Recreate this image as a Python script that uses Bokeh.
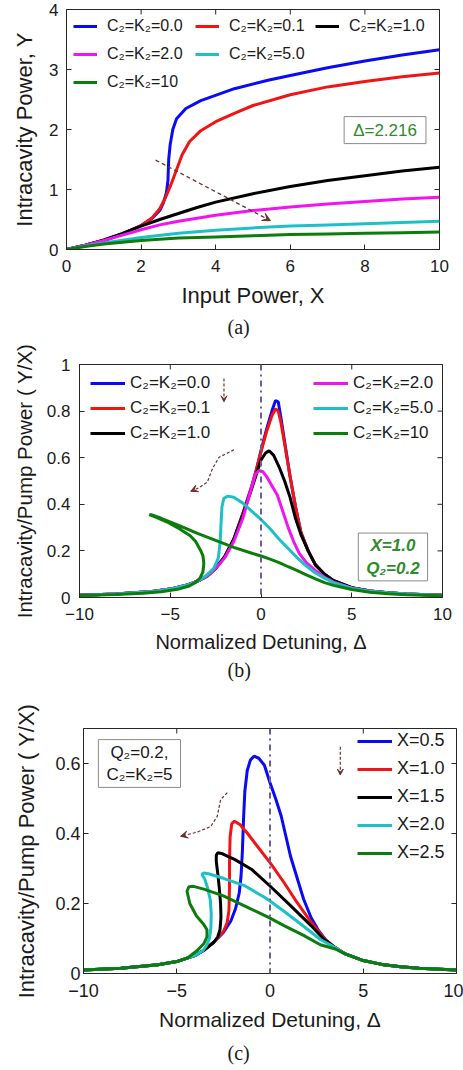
import math
from bokeh.plotting import figure
from bokeh.models import (Range1d, FixedTicker, Legend, LegendItem,
                          Label, Span, Arrow, VeeHead, Title)
from bokeh.layouts import column
from bokeh.embed import file_html
from bokeh.resources import INLINE

FONT = "Liberation Sans"
SERIF = "Liberation Serif"
AXC = "#262626"
TXT = "#1a1a1a"
ARR = "#6b3030"
VLINE = "#6e5a9e"
BOXGREEN = "#2e8b2e"

COLORS6 = ["#0a0af5", "#f01414", "#000000", "#f014f0", "#1ec0c8", "#0c7d0c"]
LABELS_CK = ["C₂=K₂=0.0", "C₂=K₂=0.1", "C₂=K₂=1.0", "C₂=K₂=2.0", "C₂=K₂=5.0", "C₂=K₂=10"]
COLORS5 = ["#0a0af5", "#f01414", "#000000", "#1ec0c8", "#0c7d0c"]
LABELS_X = ["X=0.5", "X=1.0", "X=1.5", "X=2.0", "X=2.5"]

# ---------------- panel (a): Y vs X, Delta = 2.216 ----------------
a_ticks_x = [0, 2, 4, 6, 8, 10]
a_ticks_y = [0, 1, 2, 3, 4]
a_blue_x = [0, 0.5, 1, 1.5, 2, 2.3, 2.5, 2.6, 2.68, 2.72, 2.74, 2.78, 2.85, 2.95, 3.2, 3.6, 4.5, 5.4, 6, 7, 8, 9, 10]
a_blue_y = [0, 0.07, 0.15, 0.26, 0.4, 0.52, 0.65, 0.78, 0.95, 1.15, 1.5, 1.75, 2.0, 2.18, 2.35, 2.48, 2.68, 2.82, 2.9, 3.03, 3.14, 3.24, 3.33]
a_red_x = [0, 0.5, 1, 1.5, 2, 2.3, 2.5, 2.65, 2.8, 2.95, 3.1, 3.3, 3.6, 4.0, 4.5, 5, 6, 7, 8, 9, 10]
a_red_y = [0, 0.07, 0.15, 0.26, 0.4, 0.53, 0.68, 0.86, 1.08, 1.33, 1.58, 1.8, 1.98, 2.13, 2.27, 2.4, 2.58, 2.71, 2.8, 2.88, 2.94]
a_black_x = [0, 0.5, 1, 1.5, 2, 2.5, 3, 3.5, 4, 5, 6, 7, 8, 9, 10]
a_black_y = [0, 0.07, 0.16, 0.27, 0.39, 0.5, 0.6, 0.7, 0.79, 0.93, 1.05, 1.15, 1.23, 1.31, 1.37]
a_mag_x = [0, 0.5, 1, 1.5, 2, 2.5, 3, 4, 5, 6, 7, 8, 9, 10]
a_mag_y = [0, 0.07, 0.15, 0.24, 0.33, 0.41, 0.47, 0.57, 0.65, 0.71, 0.76, 0.8, 0.84, 0.87]
a_cyan_x = [0, 0.5, 1, 2, 3, 4, 5, 6, 7, 8, 9, 10]
a_cyan_y = [0, 0.06, 0.11, 0.2, 0.27, 0.32, 0.36, 0.39, 0.41, 0.43, 0.45, 0.47]
a_green_x = [0, 0.5, 1, 2, 3, 4, 5, 6, 7, 8, 9, 10]
a_green_y = [0, 0.05, 0.09, 0.15, 0.19, 0.21, 0.23, 0.25, 0.26, 0.27, 0.28, 0.29]
a_arrow = [2.39, 1.49, 5.47, 0.48]
a_box = [8.54, 1.99]

# ---------------- panel (b): Y/X vs Delta, X = 1.0 ----------------
b_ticks_x = [-10, -5, 0, 5, 10]
b_ticks_y = [0, 0.2, 0.4, 0.6, 0.8, 1]
b_blue_x = [-10, -8, -6, -5, -4, -3.5, -3, -2.5, -2, -1.5, -1, -0.5, -0.25, 0, 0.3, 0.6, 0.8, 0.95, 1.1, 1.3, 1.6, 1.9, 2.2, 2.6, 3, 3.5, 4, 5, 6, 7, 8, 10]
b_blue_y = [0.01, 0.015, 0.026, 0.036, 0.055, 0.07, 0.09, 0.125, 0.175, 0.25, 0.36, 0.48, 0.55, 0.63, 0.72, 0.8, 0.845, 0.84, 0.77, 0.67, 0.52, 0.39, 0.28, 0.2, 0.14, 0.1, 0.072, 0.042, 0.028, 0.02, 0.015, 0.01]
b_red_x = [-10, -8, -6, -5, -4, -3.5, -3, -2.5, -2, -1.5, -1, -0.5, -0.25, 0, 0.3, 0.6, 0.8, 0.95, 1.1, 1.3, 1.6, 1.9, 2.2, 2.6, 3, 3.5, 4, 5, 6, 7, 8, 10]
b_red_y = [0.01, 0.015, 0.026, 0.036, 0.055, 0.07, 0.09, 0.125, 0.175, 0.25, 0.36, 0.48, 0.55, 0.625, 0.71, 0.78, 0.81, 0.8, 0.75, 0.66, 0.52, 0.39, 0.28, 0.2, 0.14, 0.1, 0.072, 0.042, 0.028, 0.02, 0.015, 0.01]
b_black_x = [-10, -8, -6, -5, -4, -3.5, -3, -2.5, -2, -1.5, -1, -0.5, -0.25, 0, 0.25, 0.45, 0.7, 1.0, 1.3, 1.6, 1.9, 2.2, 2.6, 3, 3.5, 4, 5, 6, 7, 8, 10]
b_black_y = [0.01, 0.015, 0.026, 0.036, 0.055, 0.07, 0.09, 0.125, 0.175, 0.25, 0.355, 0.47, 0.53, 0.59, 0.62, 0.63, 0.61, 0.56, 0.5, 0.43, 0.34, 0.27, 0.2, 0.14, 0.1, 0.072, 0.042, 0.028, 0.02, 0.015, 0.01]
b_mag_x = [-10, -8, -6, -5, -4, -3.5, -3, -2.5, -2, -1.5, -1, -0.6, -0.3, -0.1, 0.1, 0.3, 0.6, 0.9, 1.2, 1.5, 1.8, 2.1, 2.5, 3, 3.5, 4, 5, 6, 7, 8, 10]
b_mag_y = [0.01, 0.015, 0.026, 0.036, 0.055, 0.07, 0.09, 0.125, 0.17, 0.24, 0.34, 0.45, 0.53, 0.545, 0.54, 0.52, 0.48, 0.44, 0.37, 0.3, 0.24, 0.19, 0.15, 0.115, 0.087, 0.066, 0.04, 0.027, 0.02, 0.015, 0.01]
b_cyan_x = [-10, -8, -6, -5, -4, -3.5, -3, -2.6, -2.35, -2.25, -2.2, -2.15, -2.05, -1.85, -1.5, -1, -0.5, 0, 0.5, 1, 1.5, 2, 2.5, 3, 3.5, 4, 5, 6, 7, 8, 10]
b_cyan_y = [0.01, 0.015, 0.026, 0.036, 0.055, 0.07, 0.095, 0.125, 0.17, 0.24, 0.32, 0.39, 0.425, 0.435, 0.43, 0.405, 0.37, 0.335, 0.295, 0.25, 0.21, 0.17, 0.135, 0.105, 0.083, 0.064, 0.04, 0.027, 0.02, 0.015, 0.01]
b_green_x = [-10, -8, -6.5, -5.5, -4.6, -4.0, -3.6, -3.35, -3.2, -3.15, -3.2, -3.35, -3.6, -3.9, -4.5, -5.2, -5.8, -6.15, -6.0, -5.5, -4.5, -3.5, -2.5, -1.5, -0.5, 0, 0.5, 1, 1.5, 2, 2.5, 3, 3.5, 4, 5, 6, 7, 8, 10]
b_green_y = [0.009, 0.013, 0.018, 0.025, 0.035, 0.048, 0.065, 0.085, 0.11, 0.145, 0.18, 0.205, 0.24, 0.265, 0.295, 0.325, 0.345, 0.356, 0.354, 0.34, 0.308, 0.275, 0.245, 0.215, 0.19, 0.178, 0.165, 0.15, 0.132, 0.115, 0.097, 0.08, 0.064, 0.052, 0.034, 0.023, 0.016, 0.012, 0.008]
b_arrow_v = [-2.04, 0.94, -2.04, 0.84]
b_arrow_cx = [-1.49, -2.31, -2.68, -2.96, -3.42, -3.87]
b_arrow_cy = [0.634, 0.602, 0.552, 0.495, 0.471, 0.456]
b_box = [7.27, 0.174]

# ---------------- panel (c): Y/X vs Delta, C2=K2=5 ----------------
c_ticks_x = [-10, -5, 0, 5, 10]
c_ticks_y = [0, 0.2, 0.4, 0.6]
c_blue_x = [-10, -8, -6, -5, -4, -3.5, -3, -2.5, -2.1, -1.85, -1.65, -1.55, -1.48, -1.42, -1.35, -1.22, -1.05, -0.86, -0.6, -0.3, 0, 0.3, 0.6, 1.1, 1.5, 1.8, 2.2, 2.6, 3, 3.5, 4, 5, 6, 7, 8, 10]
c_blue_y = [0.01, 0.015, 0.025, 0.034, 0.052, 0.068, 0.09, 0.117, 0.15, 0.185, 0.23, 0.28, 0.35, 0.44, 0.52, 0.58, 0.61, 0.621, 0.615, 0.595, 0.545, 0.5, 0.45, 0.335, 0.265, 0.213, 0.16, 0.123, 0.095, 0.072, 0.057, 0.037, 0.026, 0.019, 0.015, 0.01]
c_red_x = [-10, -8, -6, -5, -4, -3.5, -3, -2.5, -2.3, -2.2, -2.17, -2.17, -2.14, -2.05, -1.9, -1.6, -1.2, -0.7, 0, 0.75, 1.45, 2.2, 2.9, 3.5, 4, 5, 6, 7, 8, 10]
c_red_y = [0.01, 0.015, 0.025, 0.034, 0.052, 0.068, 0.09, 0.12, 0.145, 0.18, 0.25, 0.32, 0.39, 0.428, 0.435, 0.425, 0.4, 0.365, 0.317, 0.26, 0.203, 0.147, 0.1, 0.074, 0.057, 0.037, 0.026, 0.019, 0.015, 0.01]
c_black_x = [-10, -8, -6, -5, -4, -3.5, -3, -2.8, -2.68, -2.63, -2.65, -2.72, -2.8, -2.88, -2.88, -2.8, -2.6, -2.2, -1.9, -1.0, 0, 1.1, 2.2, 2.9, 3.5, 4, 5, 6, 7, 8, 10]
c_black_y = [0.01, 0.015, 0.025, 0.034, 0.052, 0.068, 0.09, 0.105, 0.125, 0.16, 0.2, 0.245, 0.285, 0.32, 0.338, 0.345, 0.343, 0.333, 0.326, 0.298, 0.25, 0.194, 0.137, 0.097, 0.074, 0.057, 0.037, 0.026, 0.019, 0.015, 0.01]
c_cyan_x = [-10, -8, -6, -5, -4, -3.6, -3.4, -3.25, -3.17, -3.15, -3.2, -3.35, -3.5, -3.65, -3.55, -3.3, -2.5, -1.4, -0.3, 0, 0.75, 1.8, 2.7, 3.5, 4, 5, 6, 7, 8, 10]
c_cyan_y = [0.01, 0.015, 0.025, 0.034, 0.052, 0.065, 0.08, 0.1, 0.13, 0.17, 0.21, 0.245, 0.27, 0.283, 0.287, 0.285, 0.272, 0.252, 0.218, 0.207, 0.178, 0.135, 0.097, 0.074, 0.057, 0.037, 0.026, 0.019, 0.015, 0.01]
c_green_x = [-10, -8, -6, -5, -4.4, -3.9, -3.55, -3.38, -3.38, -3.55, -3.95, -4.3, -4.45, -4.35, -4.1, -3.55, -2.5, -1.4, -0.3, 0, 0.75, 1.8, 2.7, 3.5, 4, 5, 6, 7, 8, 10]
c_green_y = [0.01, 0.015, 0.025, 0.034, 0.045, 0.066, 0.085, 0.105, 0.125, 0.14, 0.165, 0.2, 0.235, 0.248, 0.249, 0.241, 0.222, 0.194, 0.166, 0.158, 0.137, 0.109, 0.082, 0.07, 0.057, 0.037, 0.026, 0.019, 0.015, 0.01]
c_arrow_v = [3.77, 0.648, 3.77, 0.567]
c_arrow_cx = [-2.29, -2.65, -2.83, -3.18, -3.9, -4.79]
c_arrow_cy = [0.517, 0.496, 0.449, 0.42, 0.404, 0.392]
c_box = [-7.0, 0.60]


def base_fig(height, xr, yr, xticks, yticks, bl, br, bt, bb, xlabel, ylabel,
             tick_size, xlab_size, ylab_size, y_mls, y_als,
             caption, cap_offset, cap_standoff, overrides=None):
    p = figure(width=463, height=height, x_range=Range1d(*xr), y_range=Range1d(*yr),
               output_backend="svg", toolbar_location=None,
               min_border_left=bl, min_border_right=br, min_border_top=bt,
               min_border_bottom=bb)
    p.frame_align = False
    p.grid.visible = False
    p.outline_line_color = AXC
    p.outline_line_width = 1
    for ax, ticks in ((p.xaxis[0], xticks), (p.yaxis[0], yticks)):
        ax.ticker = FixedTicker(ticks=ticks)
        ax.major_tick_in = 5
        ax.major_tick_out = 0
        ax.minor_tick_line_color = None
        ax.axis_line_color = AXC
        ax.major_tick_line_color = AXC
        ax.major_label_text_font = FONT
        ax.major_label_text_font_size = tick_size
        ax.major_label_text_color = TXT
        ax.axis_label_text_font = FONT
        ax.axis_label_text_font_style = "normal"
        ax.axis_label_text_color = TXT
    p.xaxis[0].axis_label = xlabel
    p.xaxis[0].axis_label_text_font_size = xlab_size
    p.xaxis[0].major_label_standoff = 10
    p.xaxis[0].axis_label_standoff = 8
    p.yaxis[0].axis_label = ylabel
    p.yaxis[0].axis_label_text_font_size = ylab_size
    p.yaxis[0].major_label_standoff = y_mls
    p.yaxis[0].axis_label_standoff = y_als
    if overrides:
        p.yaxis[0].major_label_overrides = overrides
    # mirrored inward ticks on the top and right edges (half of each dash is clipped)
    p.scatter(xticks, [yr[1]] * len(xticks), marker="dash", size=10, angle=math.pi / 2,
              line_color=AXC, line_width=1)
    p.scatter([xr[1]] * len(yticks), yticks, marker="dash", size=10,
              line_color=AXC, line_width=1)
    p.add_layout(Title(text=caption, align="left", offset=cap_offset, text_font=SERIF,
                       text_font_size="20px", text_font_style="normal",
                       text_color=TXT, standoff=cap_standoff), "below")
    return p


def legend(items, loc, gw, standoff, spacing, fsize):
    return Legend(items=items, location=loc, orientation="vertical",
                  border_line_color=None, background_fill_alpha=0, padding=0, margin=0,
                  spacing=spacing, glyph_width=gw, glyph_height=20, label_height=20,
                  label_standoff=standoff, label_text_font=FONT,
                  label_text_font_size=fsize, label_text_color=TXT)


# ---------- (a) ----------
pa = base_fig(340, (0, 10), (0, 4), a_ticks_x, a_ticks_y, 66, 24, 9, 91,
              "Input Power, X", "Intracavity Power, Y", "17px", "22px", "22px", 8, 9,
              "(a)", 161, 6)
a_series = [(a_blue_x, a_blue_y), (a_red_x, a_red_y), (a_black_x, a_black_y),
            (a_mag_x, a_mag_y), (a_cyan_x, a_cyan_y), (a_green_x, a_green_y)]
ra = [pa.line(x, y, line_color=c, line_width=3) for (x, y), c in zip(a_series, COLORS6)]
pa.add_layout(Arrow(x_start=a_arrow[0], y_start=a_arrow[1], x_end=a_arrow[2], y_end=a_arrow[3],
                    line_color=ARR, line_width=1.3, line_dash="4 3",
                    end=VeeHead(size=8, line_color=ARR, fill_color=ARR, line_width=1)))
pa.add_layout(Label(x=a_box[0], y=a_box[1], text="Δ=2.216", text_align="center",
                    text_baseline="middle", text_font=FONT, text_font_size="17px",
                    text_color=BOXGREEN, border_line_color="#8a8a8a",
                    background_fill_color="white", padding=(9, 4)))
# legend laid out as in the reference: columns [0.0, 2.0, 10], [0.1, 5.0], [1.0]
for cols, vx, vy in (([0, 3, 5], 7, 157), ([1, 4], 129, 185), ([2], 249, 213)):
    pa.add_layout(legend([LegendItem(label=LABELS_CK[i], renderers=[ra[i]]) for i in cols],
                         (vx, vy), 24, 10, 8, "16px"))

# ---------- (b) ----------
pb = base_fig(350, (-10, 10), (0, 1), b_ticks_x, b_ticks_y, 79, 21, 24, 93,
              "Normalized Detuning, Δ", "Intracavity/Pump Power ( Y/X)",
              "17px", "20px", "20.5px", 9, 8, "(b)", 148, 3,
              {0: "0", 0.2: "0.2", 0.4: "0.4", 0.6: "0.6", 0.8: "0.8", 1: "1"})
pb.add_layout(Span(location=0, dimension="height", line_color=VLINE, line_dash="dashdot",
                   line_width=2))
b_series = [(b_blue_x, b_blue_y), (b_red_x, b_red_y), (b_black_x, b_black_y),
            (b_mag_x, b_mag_y), (b_cyan_x, b_cyan_y), (b_green_x, b_green_y)]
rb = [pb.line(x, y, line_color=c, line_width=3) for (x, y), c in zip(b_series, COLORS6)]
pb.add_layout(Arrow(x_start=b_arrow_v[0], y_start=b_arrow_v[1], x_end=b_arrow_v[2],
                    y_end=b_arrow_v[3], line_color=ARR, line_width=1.2, line_dash="3 2",
                    end=VeeHead(size=6, line_color=ARR, fill_color=ARR, line_width=1)))
pb.line(b_arrow_cx, b_arrow_cy, line_color=ARR, line_width=1.2, line_dash="3 2")
pb.add_layout(Arrow(x_start=b_arrow_cx[-2], y_start=b_arrow_cy[-2], x_end=b_arrow_cx[-1],
                    y_end=b_arrow_cy[-1], line_alpha=0,
                    end=VeeHead(size=7, line_color=ARR, fill_color=ARR, line_width=1)))
pb.add_layout(Label(x=b_box[0], y=b_box[1], text="X=1.0\nQ₂=0.2", text_align="center",
                    text_baseline="middle", text_font=FONT, text_font_size="17px",
                    text_font_style="bold italic", text_color=BOXGREEN,
                    border_line_color="#8a8a8a", background_fill_color="white",
                    padding=(8, 3)))
for cols, vx in (([0, 1, 2], 11), ([3, 4, 5], 234)):
    pb.add_layout(legend([LegendItem(label=LABELS_CK[i], renderers=[rb[i]]) for i in cols],
                         (vx, 154), 35, 5, 5, "17px"))

# ---------- (c) ----------
pc = base_fig(380, (-10, 10), (0, 0.7), c_ticks_x, c_ticks_y, 83, 7, 38, 95,
              "Normalized Detuning, Δ", "Intracavity/Pump Power ( Y/X)",
              "18px", "21px", "22px", 3, 13, "(c)", 144, 13,
              {0: "0", 0.2: "0.2", 0.4: "0.4", 0.6: "0.6"})
pc.add_layout(Span(location=0, dimension="height", line_color=VLINE, line_dash="dashdot",
                   line_width=2))
c_series = [(c_blue_x, c_blue_y), (c_red_x, c_red_y), (c_black_x, c_black_y),
            (c_cyan_x, c_cyan_y), (c_green_x, c_green_y)]
rc = [pc.line(x, y, line_color=c, line_width=3) for (x, y), c in zip(c_series, COLORS5)]
pc.add_layout(Arrow(x_start=c_arrow_v[0], y_start=c_arrow_v[1], x_end=c_arrow_v[2],
                    y_end=c_arrow_v[3], line_color=ARR, line_width=1.2, line_dash="3 2",
                    end=VeeHead(size=6, line_color=ARR, fill_color=ARR, line_width=1)))
pc.line(c_arrow_cx, c_arrow_cy, line_color=ARR, line_width=1.2, line_dash="3 2")
pc.add_layout(Arrow(x_start=c_arrow_cx[-2], y_start=c_arrow_cy[-2], x_end=c_arrow_cx[-1],
                    y_end=c_arrow_cy[-1], line_alpha=0,
                    end=VeeHead(size=7, line_color=ARR, fill_color=ARR, line_width=1)))
pc.add_layout(Label(x=c_box[0], y=c_box[1], text="Q₂=0.2,\nC₂=K₂=5", text_align="center",
                    text_baseline="middle", text_font=FONT, text_font_size="17px",
                    text_color=TXT, border_line_color="#8a8a8a",
                    background_fill_color="white", padding=(8, 3)))
pc.add_layout(legend([LegendItem(label=LABELS_X[i], renderers=[rc[i]]) for i in range(5)],
                     (274, 110), 35, 5, 7, "18px"))

layout = column(pa, pb, pc, spacing=0)
open("out.html", "w").write(file_html(layout, INLINE))
